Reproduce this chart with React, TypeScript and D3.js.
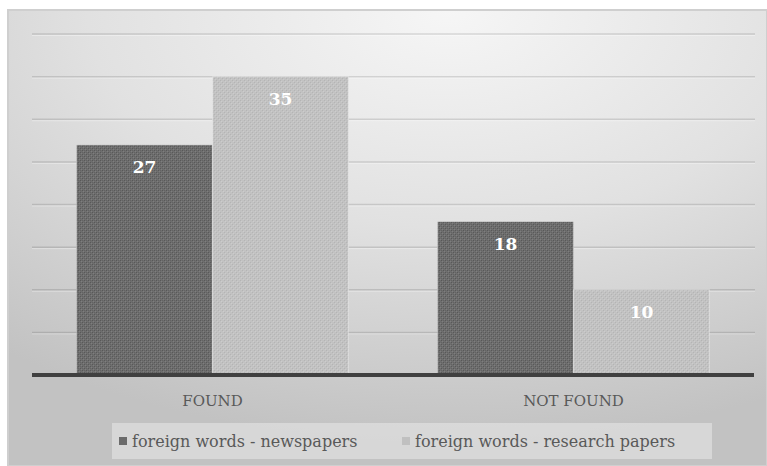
import React from "react";
import * as d3 from "d3";

const categories = ["FOUND", "NOT FOUND"];
const seriesNames = ["foreign words - newspapers", "foreign words - research papers"];
const newspapers = [27, 18];
const researchPapers = [35, 10];
const gridTicks = [5, 10, 15, 20, 25, 30, 35, 40];

const W = 767;
const H = 466;
const FONT = "'DejaVu Serif', serif";

export default function App() {
  const seriesValues = [newspapers, researchPapers];
  const x0 = d3.scaleBand<string>().domain(categories).range([32, 754]).padding(0);
  const x1 = d3
    .scaleBand<string>()
    .domain(seriesNames)
    .range([0, x0.bandwidth()])
    .paddingInner(0)
    .paddingOuter(0.327);
  const y = d3.scaleLinear().domain([0, 40]).range([375, 34]);
  const fills = ["url(#patDark)", "url(#patLight)"];
  const legendSwatch = ["#6b6b6b", "#c0c0c0"];
  const legendX = [119, 402];

  return (
    <svg
      width={W}
      height={H}
      style={{ position: "absolute", left: 0, top: 0 }}
      xmlns="http://www.w3.org/2000/svg"
    >
      <defs>
        <radialGradient id="bg" cx="58%" cy="0%" r="95%" fx="58%" fy="0%">
          <stop offset="0%" stopColor="#f6f6f6" />
          <stop offset="50%" stopColor="#e1e1e1" />
          <stop offset="100%" stopColor="#c2c2c2" />
        </radialGradient>
        <pattern id="patDark" width="4" height="4" patternUnits="userSpaceOnUse">
          <rect width="4" height="4" fill="#6e6e6e" />
          <rect x="0" y="0" width="1" height="1" fill="#585858" />
          <rect x="2" y="2" width="1" height="1" fill="#585858" />
          <rect x="1" y="1" width="1" height="1" fill="#7e7e7e" />
          <rect x="3" y="3" width="1" height="1" fill="#7e7e7e" />
          <rect x="2" y="0" width="1" height="1" fill="#636363" />
          <rect x="0" y="2" width="1" height="1" fill="#636363" />
        </pattern>
        <pattern id="patLight" width="4" height="4" patternUnits="userSpaceOnUse">
          <rect width="4" height="4" fill="#c2c2c2" />
          <rect x="0" y="0" width="1" height="1" fill="#b4b4b4" />
          <rect x="2" y="2" width="1" height="1" fill="#b4b4b4" />
          <rect x="1" y="1" width="1" height="1" fill="#cccccc" />
          <rect x="3" y="3" width="1" height="1" fill="#cccccc" />
        </pattern>
      </defs>
      <rect x={8} y={10} width={W - 8} height={H - 10} fill="url(#bg)" stroke="#cfcfcf" strokeWidth={2} />

      {gridTicks.map((t) => (
        <g key={t}>
          <line x1={32} x2={755} y1={y(t)} y2={y(t)} stroke="rgba(0,0,0,0.12)" strokeWidth={1.5} />
          <line x1={32} x2={755} y1={y(t) + 1.5} y2={y(t) + 1.5} stroke="rgba(255,255,255,0.35)" strokeWidth={1} />
        </g>
      ))}

      {categories.map((c, ci) => (
        <g key={c} transform={`translate(${x0(c)},0)`}>
          {seriesNames.map((s, si) => {
            const v = seriesValues[si][ci];
            const bx = x1(s)!;
            const bw = x1.bandwidth();
            return (
              <g key={s}>
                <rect
                  x={bx}
                  y={y(v)}
                  width={bw}
                  height={y(0) - y(v)}
                  fill={fills[si]}
                  stroke="rgba(255,255,255,0.35)"
                  strokeWidth={1}
                />
                <text
                  x={bx + bw / 2}
                  y={y(v) + 28}
                  textAnchor="middle"
                  fill="#ffffff"
                  fontFamily={FONT}
                  fontWeight="bold"
                  fontSize={17}
                >
                  {v}
                </text>
              </g>
            );
          })}
          <text
            x={x0.bandwidth() / 2}
            y={406}
            textAnchor="middle"
            fill="#595959"
            fontFamily={FONT}
            fontSize={15}
          >
            {c}
          </text>
        </g>
      ))}

      <rect x={32} y={373} width={722} height={4} fill="#404040" />

      <rect x={112} y={423} width={600} height={36} fill="rgba(255,255,255,0.35)" />
      {seriesNames.map((s, i) => (
        <g key={s}>
          <rect x={legendX[i]} y={437} width={8} height={8} fill={legendSwatch[i]} />
          <text x={legendX[i] + 13} y={447} fill="#595959" fontFamily={FONT} fontSize={16}>
            {s}
          </text>
        </g>
      ))}
    </svg>
  );
}
